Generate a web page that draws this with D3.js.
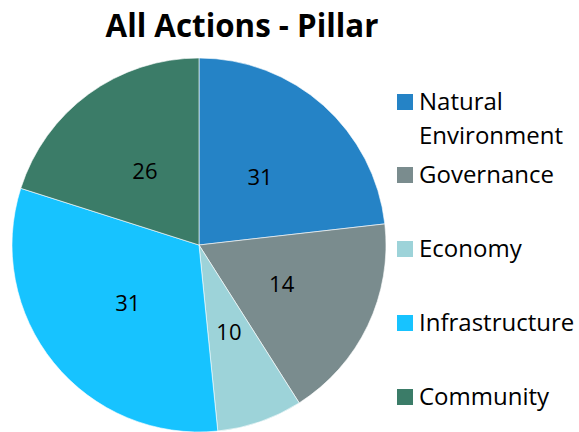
<!DOCTYPE html>
<html>
<head>
<meta charset="utf-8">
<script src="https://d3js.org/d3.v7.min.js"></script>
<style>
  body { margin: 0; background: #fff; }
  text { font-family: "Open Sans", "Noto Sans", sans-serif; }
</style>
</head>
<body>
<div id="chart"></div>
<script>
// Data
const categories = ["Natural Environment", "Governance", "Economy", "Infrastructure", "Community"];
const counts = [31, 14, 10, 31, 26];            // printed labels
const shares = [23.2, 17.8, 7.4, 31.5, 20.1];   // slice sizes as drawn (%)
const colors = ["#2583C6", "#7A8C8E", "#9DD3D9", "#17C3FF", "#3B7C68"];
const legendLines = [["Natural", "Environment"], ["Governance"], ["Economy"], ["Infrastructure"], ["Community"]];

const width = 579, height = 432;
const cx = 199, cy = 245, radius = 187;

const svg = d3.select("#chart")
    .append("svg")
    .attr("width", width)
    .attr("height", height);

// Title
const title = svg.append("text")
    .attr("x", 242)
    .attr("y", 37)
    .attr("text-anchor", "middle")
    .style("font-weight", "bold")
    .style("font-size", "30px")
    .text("All Actions - Pillar");
const tw = title.node().getComputedTextLength();
title.style("font-size", (30 * 273 / tw) + "px");

const pie = d3.pie().sort(null).value(d => d.share);
const arcs = pie(categories.map((c, i) => ({ name: c, share: shares[i], count: counts[i] })));

const arc = d3.arc().innerRadius(0).outerRadius(radius);
const labelArc = d3.arc().innerRadius(radius * 0.49).outerRadius(radius * 0.49);

const g = svg.append("g").attr("transform", `translate(${cx},${cy})`);

g.selectAll("path")
    .data(arcs)
    .enter()
    .append("path")
    .attr("d", arc)
    .attr("fill", (d, i) => colors[i])
    .attr("stroke", "#fff")
    .attr("stroke-width", 0.6);

g.selectAll(".lbl")
    .data(arcs)
    .enter()
    .append("text")
    .attr("class", "lbl")
    .attr("transform", d => `translate(${labelArc.centroid(d)})`)
    .attr("text-anchor", "middle")
    .attr("dy", "0.36em")
    .style("font-size", "22px")
    .text(d => d.data.count);

// Legend
const legendY = [102, 175, 249, 323, 397];
const legend = svg.append("g");
categories.forEach((c, i) => {
    legend.append("rect")
        .attr("x", 397)
        .attr("y", legendY[i] - 8)
        .attr("width", 16)
        .attr("height", 16)
        .attr("fill", colors[i]);
    legendLines[i].forEach((line, j) => {
        legend.append("text")
            .attr("x", 419)
            .attr("y", legendY[i] + 7.5 + j * 34)
            .style("font-size", "24px")
            .text(line);
    });
});
</script>
</body>
</html>
